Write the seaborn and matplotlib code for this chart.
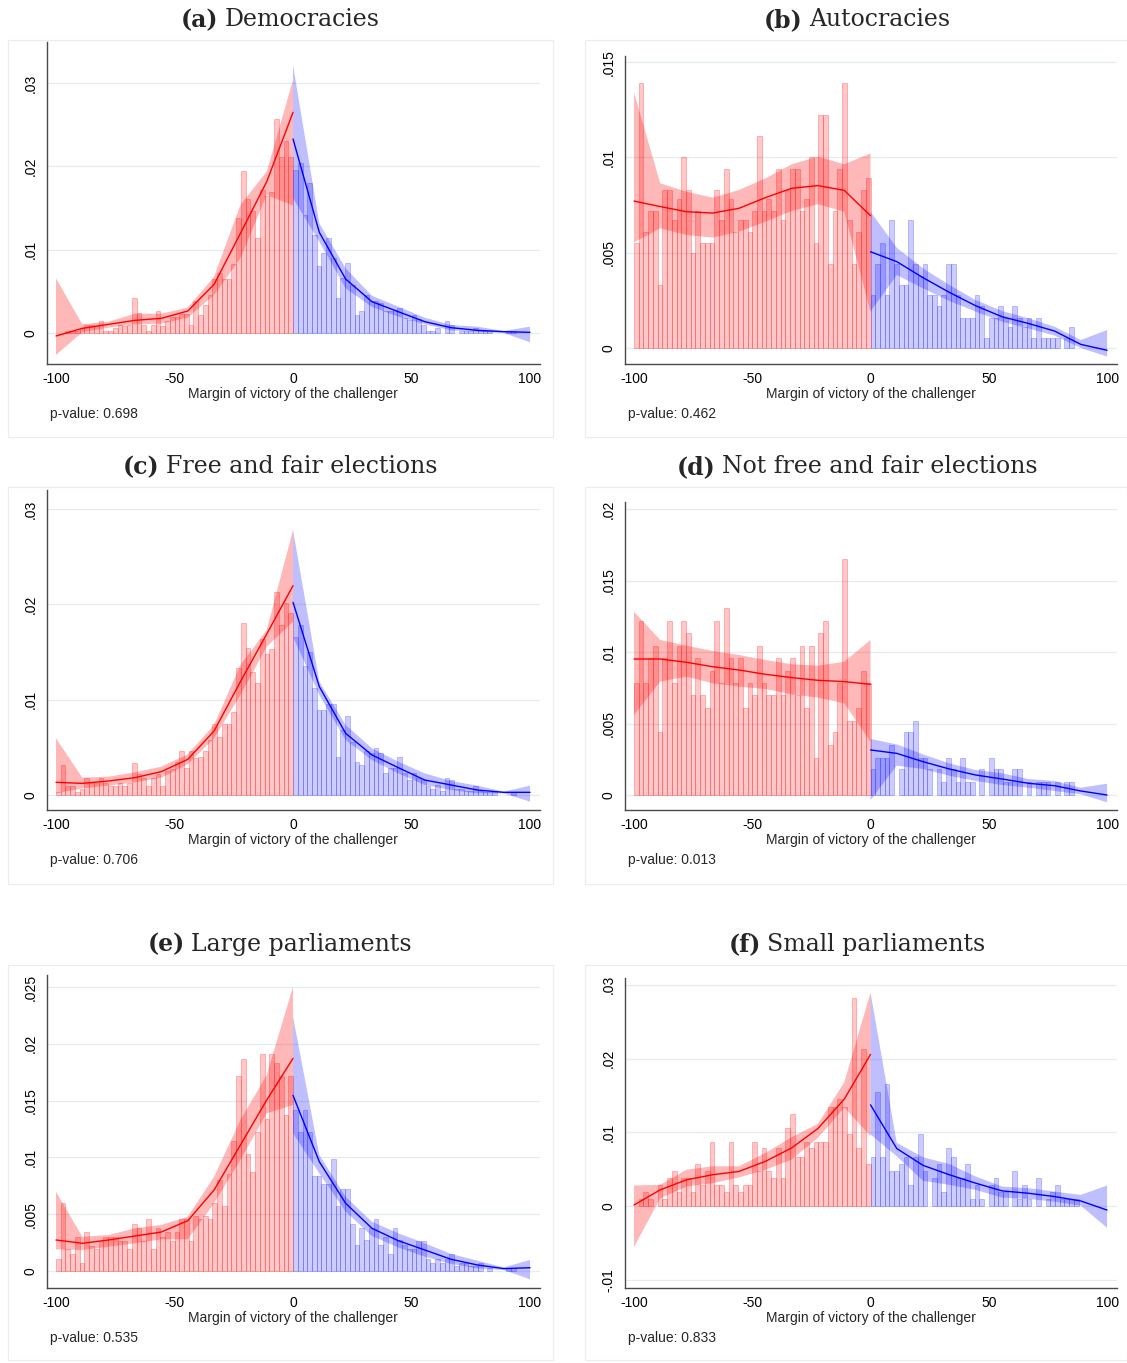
import numpy as np
import pandas as pd
import matplotlib
matplotlib.use("Agg")
import matplotlib.pyplot as plt
from matplotlib.patches import Rectangle
import seaborn as sns

W, H = 1127, 1363

# histogram bins (width 2) and the points where the local fits are evaluated
bin_edges = list(range(-100, 101, 2))
left_centers = np.arange(-99, 0, 2)
right_centers = np.arange(1, 100, 2)
fit_x_left = [-100, -88.9, -77.8, -66.7, -55.6, -44.4, -33.3, -22.2, -11.1, 0]
fit_x_right = [0, 11.1, 22.2, 33.3, 44.4, 55.6, 66.7, 77.8, 88.9, 100]

# (a) Democracies
dem_left_bars = [0, 0, 0.0003, 0.0003, 0.0003, 0.0006, 0.0010, 0.0010, 0.0008, 0.0014,
                 0.0003, 0.0003, 0.0006, 0.0010, 0.0008, 0.0010, 0.0042, 0.0024, 0.0010, 0.0003,
                 0.0010, 0.0026, 0.0008, 0.0014, 0.0019, 0.0019, 0.0023, 0.0023, 0.0010, 0.0038,
                 0.0022, 0.0034, 0.0046, 0.0065, 0.0072, 0.0065, 0.0065, 0.0083, 0.0138, 0.0195,
                 0.0161, 0.0146, 0.0114, 0.0172, 0.0164, 0.0169, 0.0257, 0.0211, 0.0231, 0.0211]
dem_right_bars = [0.0196, 0.0204, 0.0142, 0.0180, 0.0118, 0.0081, 0.0096, 0.0114, 0.0090, 0.0042,
                  0.0066, 0.0084, 0.0058, 0.0022, 0.0026, 0.0046, 0.0038, 0.0038, 0.0036, 0.0026,
                  0.0026, 0.0028, 0.0030, 0.0018, 0.0016, 0.0022, 0.0017, 0.0010, 0.0003, 0.0003,
                  0.0006, 0, 0.0014, 0.0010, 0, 0.0003, 0.0003, 0.0003, 0.0006, 0.0003,
                  0.0003, 0.0003, 0, 0, 0, 0.0003, 0.0003, 0, 0, 0]
dem_left_fit = [-0.00036, 0.00056, 0.00104, 0.00152, 0.00176, 0.00264, 0.00584, 0.01196, 0.01817, 0.02649]
dem_left_lo = [-0.00264, 0.0001, 0.00064, 0.00104, 0.00112, 0.00184, 0.00456, 0.00896, 0.01657, 0.01529]
dem_left_hi = [0.00656, 0.00104, 0.00136, 0.00232, 0.00232, 0.00304, 0.00676, 0.01537, 0.01937, 0.03037]
dem_right_fit = [0.02329, 0.01208, 0.00648, 0.00376, 0.00256, 0.00136, 0.00064, 0.00032, 0.00016, 0.00008]
dem_right_lo = [0.01617, 0.01096, 0.00536, 0.00312, 0.00196, 0.00104, 0.00032, 0.00016, 0.0, -0.00112]
dem_right_hi = [0.03217, 0.01317, 0.00776, 0.00448, 0.00316, 0.00184, 0.00096, 0.00076, 0.00024, 0.00076]

# (b) Autocracies
aut_left_bars = [0.0055, 0.0139, 0.0061, 0.0072, 0.0072, 0.0033, 0.0083, 0.0083, 0.0067, 0.0078,
                 0.0100, 0.0083, 0.0050, 0.0072, 0.0055, 0.0055, 0.0055, 0.0083, 0.0067, 0.0094,
                 0.0078, 0.0061, 0.0067, 0.0067, 0.0061, 0.0072, 0.0111, 0.0072, 0.0078, 0.0072,
                 0.0094, 0.0067, 0.0083, 0.0094, 0.0094, 0.0072, 0.0078, 0.0100, 0.0055, 0.0122,
                 0.0122, 0.0044, 0.0072, 0.0094, 0.0139, 0.0067, 0.0044, 0.0061, 0.0083, 0.0089]
aut_right_bars = [0.0028, 0.0044, 0.0055, 0.0028, 0.0067, 0.0044, 0.0033, 0.0033, 0.0067, 0.0044,
                  0.0038, 0.0044, 0.0028, 0.0028, 0.0022, 0.0028, 0.0044, 0.0044, 0.0028, 0.0016,
                  0.0016, 0.0016, 0.0028, 0.0022, 0.0005, 0.0016, 0.0016, 0.0022, 0.0016, 0.0011,
                  0.0022, 0.0016, 0.0011, 0.0016, 0.0005, 0.0016, 0.0005, 0.0005, 0.0005, 0.0005,
                  0, 0.0005, 0.0011, 0, 0, 0, 0, 0, 0, 0]
aut_left_fit = [0.00771, 0.00742, 0.00715, 0.00708, 0.00733, 0.00789, 0.00838, 0.00852, 0.00827, 0.00694]
aut_left_lo = [0.00554, 0.00628, 0.00593, 0.00579, 0.0061, 0.00663, 0.00719, 0.00754, 0.00715, 0.0019]
aut_left_hi = [0.01341, 0.00864, 0.0082, 0.00789, 0.00829, 0.0089, 0.00964, 0.01004, 0.00964, 0.01021]
aut_right_fit = [0.00505, 0.00453, 0.00369, 0.00292, 0.00222, 0.00164, 0.00129, 0.00089, 0.00019, -0.00012]
aut_right_lo = [0.00191, 0.00383, 0.00313, 0.00247, 0.00191, 0.00138, 0.00103, 0.00065, 0.0, -0.00045]
aut_right_hi = [0.00715, 0.00526, 0.00418, 0.00331, 0.00252, 0.00194, 0.00156, 0.00112, 0.00042, 0.00094]

# (c) Free and fair elections
ff_left_bars = [0.0003, 0.0031, 0.0009, 0.0009, 0.0003, 0.0006, 0.0018, 0.0013, 0.0013, 0.0018,
                0.0013, 0.0009, 0.0009, 0.0013, 0.0009, 0.0013, 0.0034, 0.0022, 0.0018, 0.0009,
                0.0018, 0.0022, 0.0009, 0.0025, 0.0027, 0.0035, 0.0046, 0.0028, 0.0046, 0.0039,
                0.0040, 0.0046, 0.0058, 0.0074, 0.0061, 0.0074, 0.0074, 0.0087, 0.0133, 0.0181,
                0.0154, 0.0129, 0.0117, 0.0164, 0.0148, 0.0153, 0.0213, 0.0178, 0.0201, 0.0191]
ff_right_bars = [0.0166, 0.0178, 0.0135, 0.0150, 0.0112, 0.0089, 0.0089, 0.0095, 0.0095, 0.0040,
                 0.0068, 0.0083, 0.0056, 0.0035, 0.0032, 0.0046, 0.0044, 0.0049, 0.0044, 0.0023,
                 0.0028, 0.0028, 0.0040, 0.0023, 0.0016, 0.0023, 0.0018, 0.0016, 0.0009, 0.0006,
                 0.0011, 0.0004, 0.0018, 0.0016, 0.0006, 0.0006, 0.0004, 0.0004, 0.0009, 0.0004,
                 0.0003, 0.0003, 0.0003, 0, 0, 0, 0.0003, 0, 0, 0]
ff_left_fit = [0.00133, 0.00122, 0.00147, 0.00182, 0.00245, 0.00374, 0.00672, 0.01189, 0.01689, 0.02197]
ff_left_lo = [0.00017, 0.0007, 0.00098, 0.00133, 0.00182, 0.00322, 0.00595, 0.01049, 0.01556, 0.01819]
ff_left_hi = [0.00595, 0.00182, 0.00192, 0.00238, 0.00297, 0.00427, 0.00735, 0.01364, 0.01731, 0.02781]
ff_right_fit = [0.02022, 0.01137, 0.00647, 0.0042, 0.00287, 0.00157, 0.00105, 0.00052, 0.00028, 0.00028]
ff_right_lo = [0.01661, 0.01049, 0.00577, 0.00367, 0.00227, 0.00105, 0.00052, 0.00017, 0.00017, -0.0007]
ff_right_hi = [0.02781, 0.01189, 0.00735, 0.0049, 0.0035, 0.00227, 0.00147, 0.00098, 0.00035, 0.00098]

# (d) Not free and fair elections
nff_left_bars = [0.0078, 0.0122, 0.0078, 0.0096, 0.0104, 0.0044, 0.0096, 0.0122, 0.0078, 0.0104,
                 0.0122, 0.0113, 0.0070, 0.0096, 0.0070, 0.0061, 0.0087, 0.0122, 0.0078, 0.0131,
                 0.0096, 0.0078, 0.0096, 0.0061, 0.0078, 0.0070, 0.0104, 0.0078, 0.0070, 0.0070,
                 0.0096, 0.0070, 0.0087, 0.0096, 0.0070, 0.0104, 0.0061, 0.0104, 0.0026, 0.0113,
                 0.0122, 0.0035, 0.0044, 0.0078, 0.0165, 0.0052, 0.0052, 0.0061, 0.0087, 0.0078]
nff_right_bars = [0.0018, 0.0026, 0.0026, 0.0026, 0.0035, 0, 0.0018, 0.0044, 0.0044, 0.0052,
                  0.0026, 0.0026, 0.0018, 0, 0.0018, 0.0009, 0.0026, 0.0018, 0.0009, 0.0026,
                  0.0009, 0.0009, 0, 0.0018, 0, 0.0026, 0.0018, 0.0018, 0.0009, 0.0009,
                  0.0018, 0.0018, 0, 0.0009, 0, 0.0009, 0.0009, 0.0009, 0, 0.0009,
                  0, 0.0009, 0.0009, 0, 0, 0, 0, 0, 0, 0]
nff_left_fit = [0.00951, 0.00951, 0.00928, 0.00897, 0.00874, 0.00844, 0.00821, 0.00802, 0.00793, 0.00774]
nff_left_lo = [0.00559, 0.00793, 0.00828, 0.00781, 0.00758, 0.00741, 0.00704, 0.00681, 0.00641, 0.00373]
nff_left_hi = [0.01282, 0.01084, 0.01044, 0.01007, 0.00979, 0.00944, 0.00914, 0.00904, 0.00932, 0.01084]
nff_right_fit = [0.00315, 0.00291, 0.00233, 0.00182, 0.0014, 0.00112, 0.00082, 0.00065, 0.00028, 0.0]
nff_right_lo = [-0.00035, 0.00205, 0.00182, 0.00135, 0.00098, 0.0007, 0.00051, 0.00028, 0.00005, -0.00051]
nff_right_hi = [0.00392, 0.00354, 0.00284, 0.00221, 0.00175, 0.00152, 0.00112, 0.00098, 0.00051, 0.00079]

# (e) Large parliaments
lp_left_bars = [0.0011, 0.0060, 0.0019, 0.0015, 0.0030, 0.0007, 0.0034, 0.0022, 0.0019, 0.0026,
                0.0030, 0.0030, 0.0030, 0.0026, 0.0026, 0.0019, 0.0041, 0.0038, 0.0026, 0.0046,
                0.0019, 0.0038, 0.0030, 0.0034, 0.0026, 0.0034, 0.0046, 0.0046, 0.0026, 0.0048,
                0.0046, 0.0048, 0.0046, 0.0060, 0.0080, 0.0057, 0.0085, 0.0114, 0.0172, 0.0187,
                0.0103, 0.0087, 0.0122, 0.0191, 0.0134, 0.0191, 0.0183, 0.0172, 0.0137, 0.0172]
lp_right_bars = [0.0142, 0.0122, 0.0142, 0.0122, 0.0084, 0.0084, 0.0077, 0.0077, 0.0099, 0.0057,
                 0.0072, 0.0072, 0.0041, 0.0023, 0.0038, 0.0027, 0.0038, 0.0046, 0.0023, 0.0030,
                 0.0015, 0.0038, 0.0027, 0.0023, 0.0019, 0.0019, 0.0026, 0.0026, 0.0011, 0.0007,
                 0.0011, 0.0007, 0.0011, 0.0015, 0.0004, 0.0007, 0.0007, 0.0004, 0.0004, 0.0007,
                 0, 0.0003, 0, 0, 0, 0.0003, 0.0003, 0, 0, 0]
lp_left_fit = [0.00273, 0.00244, 0.00273, 0.00308, 0.00343, 0.00443, 0.00713, 0.01109, 0.01505, 0.01872]
lp_left_lo = [0.00191, 0.00185, 0.00214, 0.00244, 0.00279, 0.00279, 0.00596, 0.00977, 0.01388, 0.01461]
lp_left_hi = [0.00698, 0.00302, 0.00317, 0.00376, 0.00405, 0.00478, 0.0083, 0.01329, 0.01725, 0.02503]
lp_right_fit = [0.01546, 0.00962, 0.00596, 0.00376, 0.00267, 0.00185, 0.00103, 0.00053, 0.00021, 0.00029]
lp_right_lo = [0.01212, 0.0086, 0.00522, 0.00308, 0.00208, 0.00126, 0.00062, 0.00023, 0.00009, -0.00073]
lp_right_hi = [0.02239, 0.01021, 0.00654, 0.00434, 0.00332, 0.00244, 0.0015, 0.00091, 0.00032, 0.00097]

# (f) Small parliaments
sp_left_bars = [0, 0.0010, 0.0019, 0.0010, 0, 0.0029, 0.0010, 0.0038, 0.0047, 0.0019,
                0.0038, 0.0038, 0.0019, 0.0057, 0.0029, 0.0047, 0.0087, 0.0029, 0.0029, 0.0019,
                0.0087, 0.0029, 0.0019, 0.0029, 0.0029, 0.0087, 0.0047, 0.0078, 0.0047, 0.0038,
                0.0078, 0.0038, 0.0106, 0.0125, 0.0067, 0.0067, 0.0087, 0.0078, 0.0087, 0.0087,
                0.0087, 0.0134, 0.0134, 0.0145, 0.0134, 0.0097, 0.0282, 0.0078, 0.0213, 0.0057]
sp_right_bars = [0.0067, 0.0155, 0.0067, 0.0165, 0.0048, 0.0048, 0.0057, 0.0067, 0.0029, 0.0066,
                 0.0097, 0.0048, 0, 0.0038, 0.0057, 0.0019, 0.0078, 0.0067, 0.0038, 0.0038,
                 0.0057, 0.0010, 0.0029, 0.0010, 0, 0.0029, 0.0038, 0.0019, 0.0019, 0,
                 0.0048, 0.0010, 0.0029, 0.0010, 0, 0.0038, 0, 0.0010, 0.0019, 0.0029,
                 0.0010, 0.0010, 0.0010, 0.0010, 0, 0, 0, 0, 0, 0]
sp_left_fit = [0.00014, 0.00219, 0.00355, 0.00424, 0.00469, 0.00606, 0.00788, 0.01052, 0.01449, 0.02055]
sp_left_lo = [-0.00556, 0.00105, 0.00264, 0.0031, 0.00387, 0.00492, 0.00629, 0.00925, 0.01335, 0.00948]
sp_left_hi = [0.00278, 0.00287, 0.00492, 0.00538, 0.00538, 0.0072, 0.00934, 0.01116, 0.01677, 0.02893]
sp_right_fit = [0.01371, 0.00779, 0.00551, 0.00424, 0.0031, 0.00205, 0.00173, 0.00128, 0.00068, -0.00055]
sp_right_lo = [0.0097, 0.00674, 0.00342, 0.00287, 0.00219, 0.00114, 0.00096, 0.00059, 0.00005, -0.00296]
sp_right_hi = [0.02893, 0.00856, 0.00661, 0.00569, 0.00401, 0.00264, 0.00241, 0.00196, 0.0015, 0.00278]

panels = [
    dict(tag="(a)", name="Democracies", pval="0.698",
         bars=(dem_left_bars, dem_right_bars),
         left=(dem_left_fit, dem_left_lo, dem_left_hi), right=(dem_right_fit, dem_right_lo, dem_right_hi),
         box=(47, 42, 540, 364), zero=333, scale=8330, yticks=[0, .01, .02, .03],
         title_xy=(280, 20), border=(8, 40, 553, 437)),
    dict(tag="(b)", name="Autocracies", pval="0.462",
         bars=(aut_left_bars, aut_right_bars),
         left=(aut_left_fit, aut_left_lo, aut_left_hi), right=(aut_right_fit, aut_right_lo, aut_right_hi),
         box=(625, 56, 1117, 364), zero=348, scale=19060, yticks=[0, .005, .01, .015],
         title_xy=(857, 20), border=(585, 40, 1127, 437)),
    dict(tag="(c)", name="Free and fair elections", pval="0.706",
         bars=(ff_left_bars, ff_right_bars),
         left=(ff_left_fit, ff_left_lo, ff_left_hi), right=(ff_right_fit, ff_right_lo, ff_right_hi),
         box=(47, 490, 540, 810), zero=795, scale=9530, yticks=[0, .01, .02, .03],
         title_xy=(280, 467), border=(8, 487, 553, 884)),
    dict(tag="(d)", name="Not free and fair elections", pval="0.013",
         bars=(nff_left_bars, nff_right_bars),
         left=(nff_left_fit, nff_left_lo, nff_left_hi), right=(nff_right_fit, nff_right_lo, nff_right_hi),
         box=(625, 502, 1117, 810), zero=795, scale=14300, yticks=[0, .005, .01, .015, .02],
         title_xy=(857, 467), border=(585, 487, 1127, 884)),
    dict(tag="(e)", name="Large parliaments", pval="0.535",
         bars=(lp_left_bars, lp_right_bars),
         left=(lp_left_fit, lp_left_lo, lp_left_hi), right=(lp_right_fit, lp_right_lo, lp_right_hi),
         box=(47, 975, 540, 1288), zero=1271, scale=11360, yticks=[0, .005, .01, .015, .02, .025],
         title_xy=(280, 944), border=(8, 965, 553, 1360)),
    dict(tag="(f)", name="Small parliaments", pval="0.833",
         bars=(sp_left_bars, sp_right_bars),
         left=(sp_left_fit, sp_left_lo, sp_left_hi), right=(sp_right_fit, sp_right_lo, sp_right_hi),
         box=(625, 978, 1117, 1288), zero=1206, scale=7375, yticks=[-.01, 0, .01, .02, .03],
         title_xy=(857, 944), border=(585, 965, 1127, 1360)),
]

sns.set_style("white")
plt.rcParams["font.family"] = ["Liberation Sans", "DejaVu Sans"]

RED_BAR = (1, 0, 0, 0.22)
RED_EDGE = (1, 0, 0, 0.25)
RED_BAND = (1, 0, 0, 0.28)
BLUE_BAR = (0, 0, 1, 0.2)
BLUE_EDGE = (0, 0, 1, 0.22)
BLUE_BAND = (0, 0, 1, 0.25)
AXIS_COLOR = "#4a4a4a"


def fmt(v):
    # Stata style: drop the leading zero
    if v == 0:
        return "0"
    s = f"{v:g}"
    return s.replace("0.", ".")


fig = plt.figure(figsize=(W / 100, H / 100), dpi=100)

title_texts = []
for p in panels:
    l, t, r, b = p["box"]
    ax = fig.add_axes([l / W, 1 - b / H, (r - l) / W, (b - t) / H])

    # histograms
    for centers, heights, face, edge in [(left_centers, p["bars"][0], RED_BAR, RED_EDGE),
                                         (right_centers, p["bars"][1], BLUE_BAR, BLUE_EDGE)]:
        hist_df = pd.DataFrame({"margin": centers, "density": heights})
        sns.histplot(data=hist_df, x="margin", weights="density", bins=bin_edges, stat="count",
                     ax=ax, facecolor=face, edgecolor=edge, linewidth=0.7, zorder=2)
    for patch in ax.patches:
        if patch.get_height() == 0:
            patch.set_visible(False)

    # local fits with confidence bands
    for fx, (fit, lo, hi), band, col in [(fit_x_left, p["left"], RED_BAND, "red"),
                                         (fit_x_right, p["right"], BLUE_BAND, "blue")]:
        ax.fill_between(fx, lo, hi, facecolor=band, edgecolor="none", zorder=3)
        sns.lineplot(x=fx, y=fit, ax=ax, color=col, linewidth=1.0, zorder=4)

    ax.set_xlim(-103.8, 104.2)
    ax.set_ylim((p["zero"] - b) / p["scale"], (p["zero"] - t) / p["scale"])
    ax.set_xticks([-100, -50, 0, 50, 100])
    ax.set_xticklabels(["-100", "-50", "0", "50", "100"])
    ax.set_yticks(p["yticks"])
    ax.set_yticklabels([fmt(v) for v in p["yticks"]], rotation=90, va="center")
    ax.set_xlabel("")
    ax.set_ylabel("")
    ax.grid(axis="y", color="#e4ecee", linewidth=0.9)
    ax.grid(axis="x", visible=False)
    ax.set_axisbelow(True)
    sns.despine(ax=ax)
    for side in ["left", "bottom"]:
        ax.spines[side].set_color(AXIS_COLOR)
        ax.spines[side].set_linewidth(1.0)
    ax.tick_params(axis="both", direction="out", length=4, width=1, color=AXIS_COLOR,
                   labelsize=10, labelcolor="black")
    ax.tick_params(axis="y", pad=3)
    ax.tick_params(axis="x", pad=2)

    # axis title and note
    x0 = l + (0 + 103.8) / 208.0 * (r - l)
    fig.text(x0 / W, 1 - (b + 30) / H, "Margin of victory of the challenger",
             ha="center", va="center", fontsize=10)
    fig.text((l + 3) / W, 1 - (b + 50) / H, "p-value: " + p["pval"],
             ha="left", va="center", fontsize=10)

    # faint outline of each sub-graph
    bl, bt, br, bb = p["border"]
    fig.add_artist(Rectangle((bl / W, 1 - bb / H), (br - bl) / W, (bb - bt) / H,
                             transform=fig.transFigure, fill=False,
                             edgecolor="#ececec", linewidth=0.8))

    t1 = fig.text(0, 0, p["tag"], fontweight="bold", fontsize=17,
                  family=["DejaVu Serif"], ha="left", va="center")
    t2 = fig.text(0, 0, p["name"], fontsize=17,
                  family=["DejaVu Serif"], ha="left", va="center")
    title_texts.append((t1, t2, p["title_xy"]))

# center the two-part titles
fig.canvas.draw()
renderer = fig.canvas.get_renderer()
for t1, t2, (cx, cy) in title_texts:
    w1 = t1.get_window_extent(renderer).width
    w2 = t2.get_window_extent(renderer).width
    gap = 6
    start = cx - (w1 + gap + w2) / 2
    t1.set_position((start / W, 1 - cy / H))
    t2.set_position(((start + w1 + gap) / W, 1 - cy / H))

fig.savefig("out.png", dpi=100)
